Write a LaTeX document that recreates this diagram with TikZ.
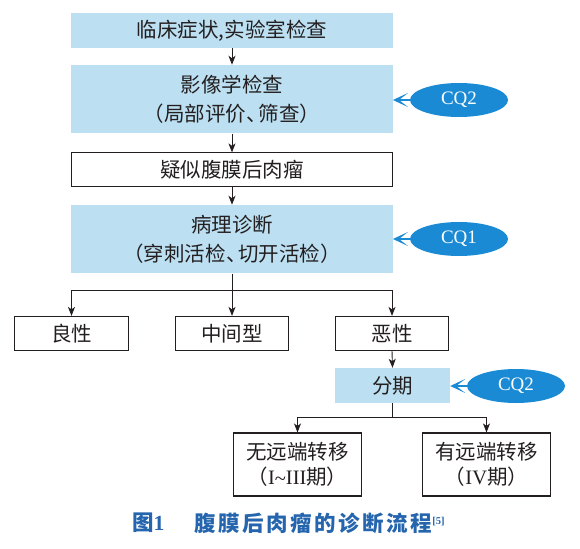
\documentclass[tikz,border=0pt]{standalone}
\usepackage{fontspec}
\setmainfont{Liberation Serif}
\newfontfamily\cjk{Noto Sans CJK SC}
\newfontfamily\capfont{Noto Sans CJK SC}[LetterSpace=12]
\usetikzlibrary{arrows.meta,shapes.geometric}
\definecolor{lightb}{HTML}{BCE0F2}
\definecolor{cqblue}{HTML}{1A8AD4}
\definecolor{capblue}{HTML}{2565AE}
\definecolor{txt}{HTML}{231F20}
\newcommand{\dunhao}{\kern0.02em、\kern-0.42em}
\tikzset{
  basebox/.style={inner sep=0pt, align=center, text=txt,
    font=\cjk\fontsize{20.5}{29}\selectfont},
  bluebox/.style={basebox, fill=lightb, minimum width=321.5pt},
  whitebox/.style={basebox, draw=txt, line width=1.1pt, fill=white},
  cqnode/.style={ellipse, fill=cqblue, inner sep=0pt, minimum width=98pt,
    minimum height=34pt, text=white, font=\fontsize{19}{22}\selectfont},
  arr/.style={draw=txt, line width=0.9pt, -{Stealth[length=9pt,width=7pt,inset=2.5pt]}},
  plain/.style={draw=txt, line width=0.9pt},
  cqarr/.style={draw=cqblue, line width=2.2pt, -{Stealth[length=15pt,width=14pt,inset=9pt]}, shorten <=-2pt}
}
\begin{document}
\begin{tikzpicture}[x=1pt,y=-1pt]
\useasboundingbox (0,0) rectangle (580,548);
\fill[white] (0,0) rectangle (580,548);

\node[bluebox, minimum height=34.4pt] (b1) at (232,30.5) {临床症状,实验室检查};
\node[bluebox, minimum height=68.5pt] (b2) at (232,99.2) {影像学检查\\（局部评价\dunhao 筛查）};
\node[whitebox, minimum width=320.5pt, minimum height=33.5pt] (b3) at (232,169.7) {疑似腹膜后肉瘤};
\node[bluebox, minimum height=68.5pt] (b4) at (232,239.2) {病理诊断\\（穿刺活检\dunhao 切开活检）};

\node[whitebox, minimum width=113.5pt, minimum height=33.7pt] (ben) at (71.5,333.3) {良性};
\node[whitebox, minimum width=113.5pt, minimum height=33.7pt] (mid) at (232,333.3) {中间型};
\node[whitebox, minimum width=113.5pt, minimum height=33.7pt] (mal) at (392,333.3) {恶性};

\node[basebox, fill=lightb, minimum width=115pt, minimum height=35pt] (stage) at (392.5,385.5) {分期};

\node[whitebox, minimum width=128pt, minimum height=63pt, font=\cjk\fontsize{20.5}{25}\selectfont] (nm) at (297.5,464.5) {无远端转移\\（{\rmfamily I\raisebox{-0.5pt}{\textasciitilde}III}期）};
\node[whitebox, minimum width=128pt, minimum height=63pt, font=\cjk\fontsize{20.5}{25}\selectfont] (ym) at (486.5,464.5) {有远端转移\\（{\rmfamily IV}期）};

\node[cqnode] (cqa) at (459,100) {CQ2};
\node[cqnode] (cqb) at (459,239) {CQ1};
\node[cqnode] (cqc) at (516,386) {CQ2};

\draw[arr] (b1.south) -- (b2.north);
\draw[arr] (b2.south) -- (b3.north);
\draw[arr] (b3.south) -- (b4.north);

\coordinate (br) at (232,290);
\draw[plain] (b4.south) -- (br);
\draw[arr] (br) -| (ben.north);
\draw[arr] (br) -- (mid.north);
\draw[arr] (br) -| (mal.north);
\draw[arr] (mal.south) -- (stage.north);

\coordinate (sp) at (392.5,417);
\draw[plain] (stage.south) -- (sp);
\draw[arr] (sp) -| (nm.north);
\draw[arr] (sp) -| (ym.north);

\draw[cqarr] (cqa.west) -- (b2.east |- cqa.west);
\draw[cqarr] (cqb.west) -- (b4.east |- cqb.west);
\draw[cqarr] (cqc.west) -- (stage.east |- cqc.west);

\node[anchor=west, inner sep=0pt, text=capblue, font=\capfont\bfseries\fontsize{21.5}{24}\selectfont] (capa) at (132,523) {图{\rmfamily\bfseries 1}};
\node[anchor=west, inner sep=0pt, text=capblue, font=\capfont\bfseries\fontsize{21.5}{24}\selectfont] (capb) at (194,523) {腹膜后肉瘤的诊断流程\raisebox{7pt}{\rmfamily\bfseries\fontsize{10.5}{10}\selectfont[5]}};
\end{tikzpicture}
\end{document}
